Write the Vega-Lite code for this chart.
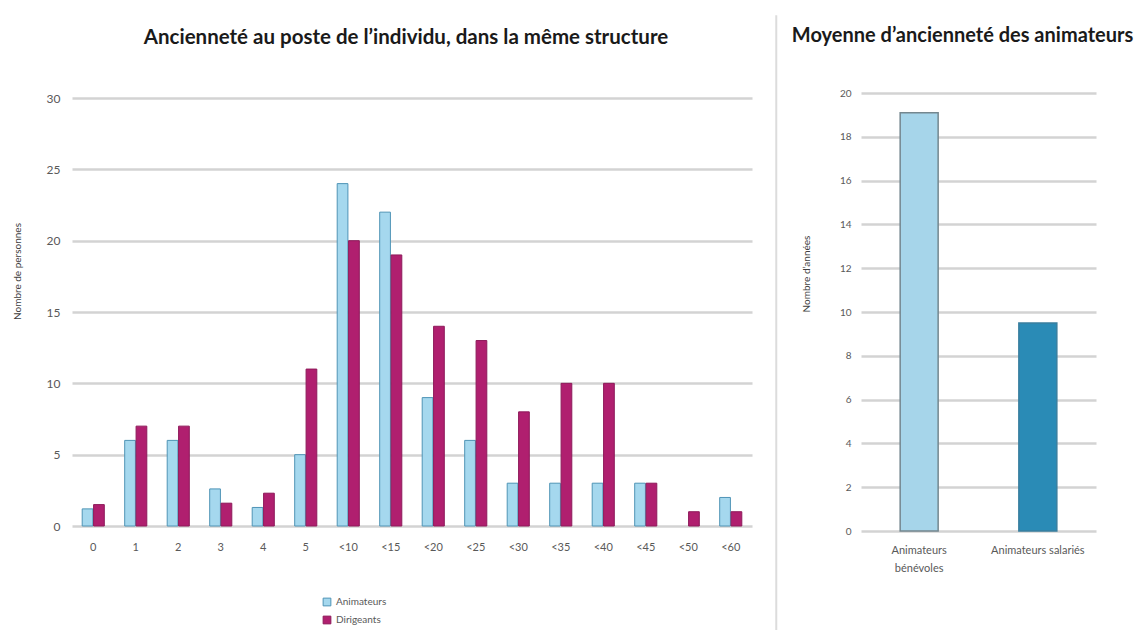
{
  "$schema": "https://vega.github.io/schema/vega-lite/v6.json",
  "background": "white",
  "padding": {"left": 12, "top": 15, "right": 0, "bottom": 0},
  "spacing": 13,
  "resolve": {"scale": {"color": "independent", "stroke": "independent"}},
  "config": {
    "view": {"stroke": null},
    "font": "Lato",
    "axis": {"labelColor": "#595959", "titleColor": "#404040", "titleFontWeight": "normal", "domain": false, "ticks": false, "gridColor": "#d3d3d3", "gridWidth": 2.5, "labelFont": "Lato", "titleFont": "Lato"},
    "title": {"font": "Lato", "fontWeight": "bold", "color": "#1a1a1a"}
  },
  "hconcat": [
    {
      "spacing": 23,
      "hconcat": [
        {
          "width": 680,
          "height": 510,
          "title": {"text": "Ancienneté au poste de l’individu, dans la même structure", "fontSize": 20.5, "offset": -32, "dx": -6},
          "data": {"values": [
            {"cat": "0", "serie": "Animateurs", "val": 1.2}, {"cat": "0", "serie": "Dirigeants", "val": 1.5},
            {"cat": "1", "serie": "Animateurs", "val": 6}, {"cat": "1", "serie": "Dirigeants", "val": 7},
            {"cat": "2", "serie": "Animateurs", "val": 6}, {"cat": "2", "serie": "Dirigeants", "val": 7},
            {"cat": "3", "serie": "Animateurs", "val": 2.6}, {"cat": "3", "serie": "Dirigeants", "val": 1.6},
            {"cat": "4", "serie": "Animateurs", "val": 1.3}, {"cat": "4", "serie": "Dirigeants", "val": 2.3},
            {"cat": "5", "serie": "Animateurs", "val": 5}, {"cat": "5", "serie": "Dirigeants", "val": 11},
            {"cat": "<10", "serie": "Animateurs", "val": 24}, {"cat": "<10", "serie": "Dirigeants", "val": 20},
            {"cat": "<15", "serie": "Animateurs", "val": 22}, {"cat": "<15", "serie": "Dirigeants", "val": 19},
            {"cat": "<20", "serie": "Animateurs", "val": 9}, {"cat": "<20", "serie": "Dirigeants", "val": 14},
            {"cat": "<25", "serie": "Animateurs", "val": 6}, {"cat": "<25", "serie": "Dirigeants", "val": 13},
            {"cat": "<30", "serie": "Animateurs", "val": 3}, {"cat": "<30", "serie": "Dirigeants", "val": 8},
            {"cat": "<35", "serie": "Animateurs", "val": 3}, {"cat": "<35", "serie": "Dirigeants", "val": 10},
            {"cat": "<40", "serie": "Animateurs", "val": 3}, {"cat": "<40", "serie": "Dirigeants", "val": 10},
            {"cat": "<45", "serie": "Animateurs", "val": 3}, {"cat": "<45", "serie": "Dirigeants", "val": 3},
            {"cat": "<50", "serie": "Dirigeants", "val": 1},
            {"cat": "<60", "serie": "Animateurs", "val": 2}, {"cat": "<60", "serie": "Dirigeants", "val": 1}
          ]},
          "mark": {"type": "bar", "strokeWidth": 1},
          "encoding": {
            "x": {"field": "cat", "type": "nominal", "sort": null, "title": null,
                  "scale": {"paddingInner": 0.48, "paddingOuter": 0.24},
                  "axis": {"labelAngle": 0, "labelFontSize": 11, "labelPadding": 15, "grid": false}},
            "xOffset": {"field": "serie", "type": "nominal", "scale": {"domain": ["Animateurs", "Dirigeants"], "paddingInner": 0.06}},
            "y": {"field": "val", "type": "quantitative", "title": "Nombre de personnes",
                  "scale": {"domain": [0, 35.75], "nice": false},
                  "axis": {"values": [0, 5, 10, 15, 20, 25, 30], "labelFontSize": 12, "labelPadding": 12, "titleFontSize": 10, "titlePadding": 24}},
            "color": {"field": "serie", "type": "nominal",
                      "scale": {"domain": ["Animateurs", "Dirigeants"], "range": ["#a5d8ee", "#b01f6f"]},
                      "legend": {"title": null, "orient": "none", "legendX": 250, "legendY": 581, "direction": "vertical", "symbolType": "square", "symbolSize": 60, "symbolStrokeWidth": 1, "labelFontSize": 10, "labelColor": "#595959", "rowPadding": 6}},
            "stroke": {"field": "serie", "type": "nominal",
                       "scale": {"domain": ["Animateurs", "Dirigeants"], "range": ["#4f94b6", "#8e1a5a"]},
                       "legend": null}
          }
        },
        {
          "width": 0.5,
          "height": 615,
          "view": {"stroke": "#dcdcdc", "strokeWidth": 1.5},
          "data": {"values": [{"a": 1}]},
          "mark": {"type": "rect", "opacity": 0},
          "encoding": {}
        }
      ]
    },
    {
      "width": 235,
      "height": 515,
      "title": {"text": "Moyenne d’ancienneté des animateurs", "fontSize": 20, "offset": -30, "dx": -16},
      "data": {"values": [
        {"type": "Animateurs bénévoles", "moy": 19.1},
        {"type": "Animateurs salariés", "moy": 9.5}
      ]},
      "mark": {"type": "bar", "strokeWidth": 1.5},
      "encoding": {
        "x": {"field": "type", "type": "nominal", "sort": null, "title": null,
              "scale": {"paddingInner": 0.68, "paddingOuter": 0.33},
              "axis": {"labelAngle": 0, "labelFontSize": 11, "labelPadding": 13, "grid": false, "labelLineHeight": 18,
                       "labelExpr": "datum.label == 'Animateurs bénévoles' ? ['Animateurs', 'bénévoles'] : datum.label"}},
        "y": {"field": "moy", "type": "quantitative", "title": "Nombre d’années",
              "scale": {"domain": [0, 23.52], "nice": false},
              "axis": {"values": [0, 2, 4, 6, 8, 10, 12, 14, 16, 18, 20], "labelFontSize": 10, "labelPadding": 10, "titleFontSize": 10, "titlePadding": 28}},
        "color": {"field": "type", "type": "nominal",
                  "scale": {"domain": ["Animateurs bénévoles", "Animateurs salariés"], "range": ["#a6d5ea", "#2a8bb6"]},
                  "legend": null},
        "stroke": {"field": "type", "type": "nominal",
                   "scale": {"domain": ["Animateurs bénévoles", "Animateurs salariés"], "range": ["#74878f", "#3a7f9f"]},
                   "legend": null}
      }
    }
  ]
}
